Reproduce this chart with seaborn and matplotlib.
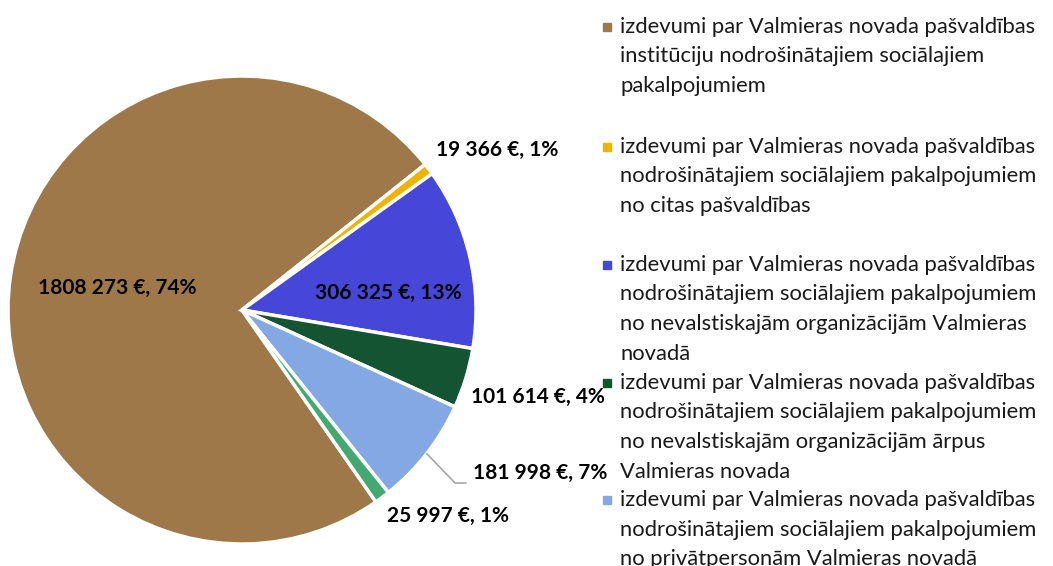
import matplotlib
matplotlib.use("Agg")
import numpy as np
import matplotlib.pyplot as plt
import seaborn as sns
from matplotlib.patches import Rectangle

# Dati
values = [1808273, 19366, 306325, 101614, 181998, 25997]
value_labels = ["1808 273 €, 74%", "19 366 €, 1%", "306 325 €, 13%",
                "101 614 €, 4%", "181 998 €, 7%", "25 997 €, 1%"]
colors = ["#9E7849", "#F0B400", "#4646D9", "#145432", "#84A8E4", "#44A871"]
legend_lines = [
    ["izdevumi par Valmieras novada pašvaldības",
     "institūciju nodrošinātajiem sociālajiem",
     "pakalpojumiem"],
    ["izdevumi par Valmieras novada pašvaldības",
     "nodrošinātajiem sociālajiem pakalpojumiem",
     "no citas pašvaldības"],
    ["izdevumi par Valmieras novada pašvaldības",
     "nodrošinātajiem sociālajiem pakalpojumiem",
     "no nevalstiskajām organizācijām Valmieras",
     "novadā"],
    ["izdevumi par Valmieras novada pašvaldības",
     "nodrošinātajiem sociālajiem pakalpojumiem",
     "no nevalstiskajām organizācijām ārpus",
     "Valmieras novada"],
    ["izdevumi par Valmieras novada pašvaldības",
     "nodrošinātajiem sociālajiem pakalpojumiem",
     "no privātpersonām Valmieras novadā"],
]

sns.set_style("white")
plt.rcParams['font.family'] = ['Lato', 'DejaVu Sans']

W, H = 1053, 566
fig = plt.figure(figsize=(W / 100, H / 100), dpi=100)

# pīrāga ass pikseļos
cx, cy, r = 242, 310, 234
ax = fig.add_axes([(cx - r) / W, (H - cy - r) / H, 2 * r / W, 2 * r / H])
wedges, _ = ax.pie(values, colors=colors, startangle=-55.1, counterclock=False,
                   radius=1, wedgeprops=dict(edgecolor='white', linewidth=2.5))
ax.set_xlim(-1, 1)
ax.set_ylim(-1, 1)
ax.axis('off')


def px(x, y):
    return (x - cx) / r, (cy - y) / r


# datu etiķetes (pikseļu centri)
label_pos = [(117, 288), (497, 150), (388, 293), (538, 397), (540, 473), (448, 516)]
for txt, (x, y) in zip(value_labels, label_pos):
    tx, ty = px(x, y)
    ax.text(tx, ty, txt, ha='center', va='center', fontsize=15,
            fontweight='bold', color='black')

# vadlīnija 181 998 etiķetei
w = wedges[4]
mid = np.deg2rad((w.theta1 + w.theta2) / 2)
p1 = px(455, 483)
p2 = px(466, 483)
ax.plot([np.cos(mid), p1[0], p2[0]], [np.sin(mid), p1[1], p2[1]],
        color='#A6A6A6', lw=1.2, clip_on=False)

# leģenda
entry_y = [27, 147, 265, 383, 500]
pitch = 29.5
for lines, col, y0 in zip(legend_lines, colors, entry_y):
    fig.add_artist(Rectangle(((603) / W, (H - y0 - 4) / H), 8 / W, 8 / H,
                             transform=fig.transFigure, color=col))
    for i, line in enumerate(lines):
        fig.text(620 / W, (H - y0 - i * pitch) / H, line, ha='left', va='center',
                 fontsize=15.8, color='#1A1A1A')

plt.savefig('out.png', dpi=100)
